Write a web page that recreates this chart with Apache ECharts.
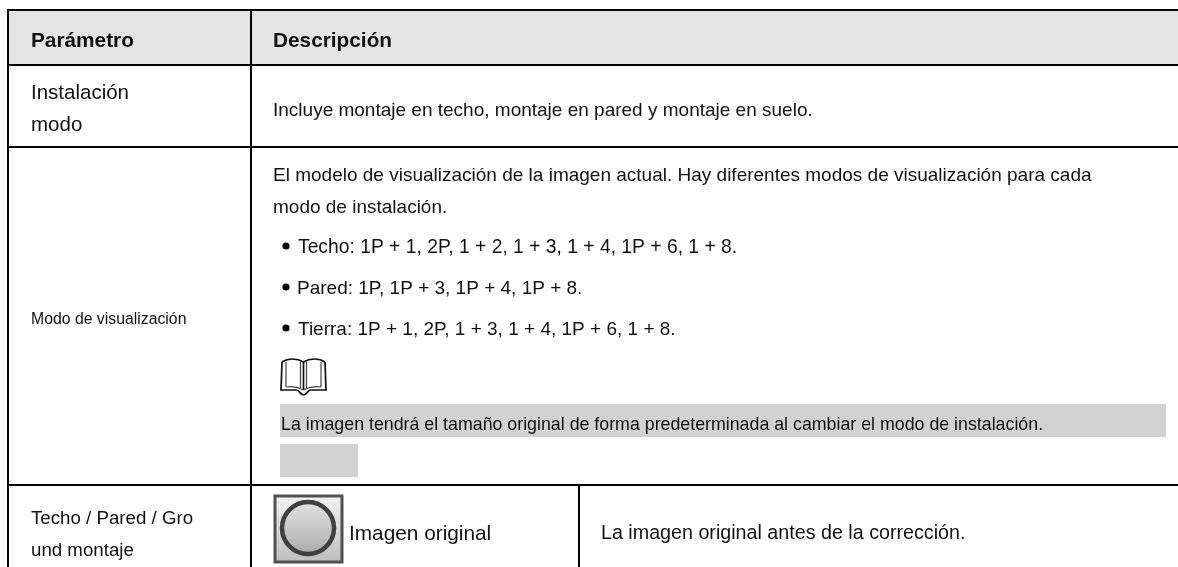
<!DOCTYPE html>
<html><head><meta charset="utf-8">
<style>html,body{margin:0;padding:0;background:#fff}#c{width:1178px;height:567px}</style>
<script src="https://cdn.jsdelivr.net/npm/echarts@6/dist/echarts.min.js"></script></head>
<body><div id="c"></div>
<script>
const FONT = '"Liberation Sans", Arial, sans-serif';
const headers = ['Parámetro', 'Descripción'];
const leftCells = [
  {t:'Instalación', x:31, y:93, s:20.5},
  {t:'modo', x:31, y:125, s:20.5},
  {t:'Modo de visualización', x:31, y:320, s:15.8},
  {t:'Techo / Pared / Gro', x:31, y:519, s:18.7},
  {t:'und montaje', x:31, y:551, s:18.7}
];
const rightCells = [
  {t:'Incluye montaje en techo, montaje en pared y montaje en suelo.', x:273, y:111, s:19},
  {t:'El modelo de visualización de la imagen actual. Hay diferentes modos de visualización para cada', x:273, y:176, s:19},
  {t:'modo de instalación.', x:273, y:208, s:19},
  {t:'Techo: 1P + 1, 2P, 1 + 2, 1 + 3, 1 + 4, 1P + 6, 1 + 8.', x:298, y:248, s:19.3},
  {t:'Pared: 1P, 1P + 3, 1P + 4, 1P + 8.', x:297, y:289, s:19},
  {t:'Tierra: 1P + 1, 2P, 1 + 3, 1 + 4, 1P + 6, 1 + 8.', x:298, y:330, s:19},
  {t:'La imagen tendrá el tamaño original de forma predeterminada al cambiar el modo de instalación.', x:281, y:425, s:17.8},
  {t:'Imagen original', x:349, y:534, s:20.8},
  {t:'La imagen original antes de la corrección.', x:601, y:534, s:19.7}
];
const bullets = [[286,246],[286,287],[286,328]];
const hLines = [[7,1178,10],[7,1178,65],[7,1178,147],[7,1178,485]];
const vLines = [[8,10,567],[251,10,567],[579,485,567]];
const g = [];
g.push({type:'rect',shape:{x:8,y:10,width:1170,height:55},style:{fill:'#e4e4e4'}});
g.push({type:'rect',shape:{x:280,y:404,width:886,height:33},style:{fill:'#d2d2d2'}});
g.push({type:'rect',shape:{x:280,y:444,width:78,height:33},style:{fill:'#d2d2d2'}});
hLines.forEach(l=>g.push({type:'line',shape:{x1:l[0],y1:l[2],x2:l[1],y2:l[2]},style:{stroke:'#000',lineWidth:2}}));
vLines.forEach(l=>g.push({type:'line',shape:{x1:l[0],y1:l[1],x2:l[0],y2:l[2]},style:{stroke:'#000',lineWidth:2}}));
const txt=(o,w,c)=>g.push({type:'text',x:o.x,y:o.y,style:{text:o.t,fill:c||'#111',font:(w||'normal')+' '+o.s+'px '+FONT,textAlign:'left',textVerticalAlign:'middle'}});
txt({t:headers[0],x:31,y:41,s:20.8},'bold');
txt({t:headers[1],x:273,y:41,s:20.8},'bold');
leftCells.forEach(o=>txt(o));
rightCells.forEach(o=>txt(o));
bullets.forEach(b=>g.push({type:'circle',shape:{cx:b[0],cy:b[1],r:3.6},style:{fill:'#000'}}));
// book icon
const ink={fill:'none',stroke:'#111',lineWidth:1.7};
const inkThin={fill:'none',stroke:'#444',lineWidth:1.2};
const curve=(x1,y1,a,b,c,d,x2,y2,st)=>({type:'bezierCurve',shape:{x1,y1,cpx1:a,cpy1:b,cpx2:c,cpy2:d,x2,y2},style:st||ink});
const poly=(pts,st)=>({type:'polyline',shape:{points:pts},style:st||ink});
g.push({type:'group',x:280,y:359,children:[
  curve(2,3,8,-1,17,-1,23.5,3),
  curve(23.5,3,30,-1,39,-1,45,3),
  poly([[2,3],[1,31],[16,31]]),
  poly([[45,3],[46,31],[31,31]]),
  curve(16,31,20,31,20,36,23.5,36),
  curve(23.5,36,27,36,27,31,31,31),
  poly([[23.5,3],[23.5,31]]),
  poly([[6,3],[6,28]],inkThin),
  poly([[41,3],[41,28]],inkThin),
  poly([[20.5,3],[20.5,29]],inkThin),
  poly([[26.5,3],[26.5,29]],inkThin),
  curve(6,28,12,27,18,28,23.5,31,inkThin),
  curve(23.5,31,29,28,35,27,41,28,inkThin)
]});
// circular button icon
g.push({type:'rect',shape:{x:275,y:496,width:67,height:66},style:{fill:{type:'linear',x:0,y:0,x2:0,y2:1,colorStops:[{offset:0,color:'#f2f2f2'},{offset:1,color:'#bdbdbd'}]},stroke:'#505050',lineWidth:3}});
g.push({type:'circle',shape:{cx:308,cy:528,r:26},style:{fill:{type:'linear',x:0,y:0,x2:0,y2:1,colorStops:[{offset:0,color:'#e4e4e4'},{offset:1,color:'#aaaaaa'}]},stroke:'#404040',lineWidth:4.5}});
const chart=echarts.init(document.getElementById('c'),null,{renderer:'canvas'});
chart.setOption({animation:false,backgroundColor:'#fff',graphic:{elements:g}});
</script></body></html>
